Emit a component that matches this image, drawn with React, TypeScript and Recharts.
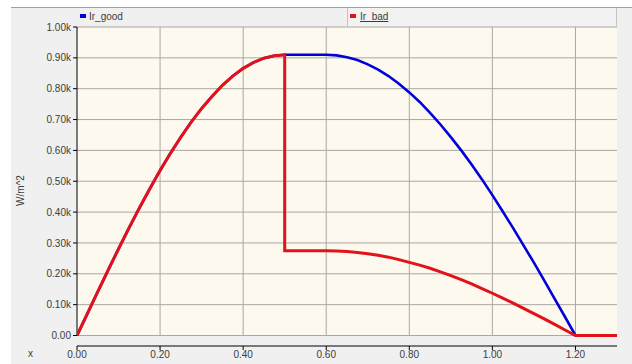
import React from "react";
import {
  LineChart,
  Line,
  XAxis,
  YAxis,
  ReferenceLine,
  ReferenceArea,
  Legend,
} from "recharts";

// x positions (0.5 appears twice: the step of Ir_bad)
const xValues = [
  0, 0.025, 0.05, 0.075, 0.1, 0.125, 0.15, 0.175, 0.2, 0.225, 0.25, 0.275, 0.3,
  0.325, 0.35, 0.375, 0.4, 0.425, 0.45, 0.475, 0.5, 0.5, 0.525, 0.55, 0.575,
  0.6, 0.625, 0.65, 0.675, 0.7, 0.725, 0.75, 0.775, 0.8, 0.825, 0.85, 0.875,
  0.9, 0.925, 0.95, 0.975, 1.0, 1.025, 1.05, 1.075, 1.1, 1.125, 1.15, 1.175,
  1.2, 1.25, 1.3,
];

// Ir_good, W/m^2
const goodValues = [
  0, 71, 142, 212, 281, 348, 413, 475, 535, 591, 643, 692, 736, 775, 811, 841,
  866, 885, 899, 907, 910, 910, 910, 910, 910, 910, 908, 902, 893, 879, 862,
  841, 816, 788, 757, 722, 684, 643, 600, 554, 506, 455, 402, 348, 292, 236,
  178, 119, 60, 0, 0, 0,
];

// Ir_bad, W/m^2
const badValues = [
  0, 71, 142, 212, 281, 348, 413, 475, 535, 591, 643, 692, 736, 775, 811, 841,
  866, 885, 899, 907, 910, 275, 275, 275, 275, 275, 274, 272, 269, 265, 260,
  254, 246, 237, 228, 218, 206, 194, 181, 167, 152, 137, 121, 105, 88, 71, 54,
  36, 18, 0, 0, 0,
];

const xTicks = [0, 0.2, 0.4, 0.6, 0.8, 1.0, 1.2];
const yTicks = [0, 100, 200, 300, 400, 500, 600, 700, 800, 900, 1000];

const seriesNames = ["Ir_good", "Ir_bad"];
const seriesColors = ["#0000dc", "#e3121a"];

const data = xValues.map((x, i) => ({
  x,
  good: goodValues[i],
  bad: badValues[i],
}));

const CREAM = "#fdf9ee";
const GRID = "#a8a8a2";
const TEXT = "#3c3c3c";
const FONT = "'Liberation Sans', Arial, sans-serif";

const fmtY = (v: number) => (v === 0 ? "0.00" : (v / 1000).toFixed(2) + "k");
const fmtX = (v: number) => v.toFixed(2);

const renderLegend = () => (
  <div
    style={{
      position: "relative",
      width: 540,
      height: 18,
      fontFamily: FONT,
      fontSize: 10,
      color: TEXT,
    }}
  >
    <div
      style={{
        position: "absolute",
        left: 0,
        top: 0,
        width: 270,
        height: 18,
        boxSizing: "border-box",
      }}
    >
      <span
        style={{
          position: "absolute",
          left: 3,
          top: 6,
          width: 6,
          height: 4,
          background: seriesColors[0],
        }}
      />
      <span style={{ position: "absolute", left: 12, top: 3, lineHeight: "11px" }}>
        {seriesNames[0]}
      </span>
    </div>
    <div
      style={{
        position: "absolute",
        left: 270,
        top: 0,
        width: 270,
        height: 18,
        boxSizing: "border-box",
        borderLeft: "1px solid #c4c4c4",
        borderRight: "1px solid #c4c4c4",
        background: "#f2f2f2",
      }}
    >
      <span
        style={{
          position: "absolute",
          left: 2,
          top: 6,
          width: 6,
          height: 4,
          background: seriesColors[1],
        }}
      />
      <span
        style={{
          position: "absolute",
          left: 12,
          top: 3,
          lineHeight: "11px",
          textDecoration: "underline",
        }}
      >
        {seriesNames[1]}
      </span>
    </div>
  </div>
);

export default function App() {
  return (
    <div
      style={{
        position: "absolute",
        left: 0,
        top: 0,
        width: 632,
        height: 364,
        background: "#ffffff",
        overflow: "hidden",
      }}
    >
      <div
        style={{
          position: "absolute",
          left: 11,
          top: 7,
          width: 621,
          height: 357,
          background: "#f0f0f0",
          borderTop: "1px solid #a0a0a0",
          boxSizing: "border-box",
        }}
      />
      <div style={{ position: "absolute", left: 0, top: 0 }}>
        <LineChart
          width={632}
          height={364}
          data={data}
          margin={{ top: 27, right: 15, left: 17, bottom: 0 }}
        >
          <XAxis
            dataKey="x"
            type="number"
            domain={[0, 1.3]}
            ticks={xTicks}
            tickFormatter={fmtX}
            allowDataOverflow
            height={18}
            tickSize={4}
            tickMargin={1}
            axisLine={{ stroke: "#000" }}
            tickLine={{ stroke: "#000" }}
            tick={{ fill: TEXT, fontSize: 10, fontFamily: FONT }}
            label={{
              value: "x",
              position: "left",
              offset: 44,
              dy: -2,
              fill: TEXT,
              fontSize: 10,
              fontFamily: FONT,
            }}
          />
          <YAxis
            type="number"
            domain={[-34, 1000]}
            ticks={yTicks}
            tickFormatter={fmtY}
            allowDataOverflow
            width={60}
            tickSize={4}
            tickMargin={2}
            axisLine={false}
            tickLine={{ stroke: "#000" }}
            tick={{ fill: TEXT, fontSize: 10, fontFamily: FONT }}
            label={{
              value: "W/m^2",
              angle: -90,
              position: "insideLeft",
              offset: 3,
              dy: 4,
              fill: TEXT,
              fontSize: 10,
              fontFamily: FONT,
              style: { textAnchor: "middle" },
            }}
          />
          <ReferenceArea
            x1={0}
            x2={1.3}
            y1={0}
            y2={1000}
            fill={CREAM}
            fillOpacity={1}
            stroke="none"
            ifOverflow="visible"
          />
          {yTicks.map((t) => (
            <ReferenceLine
              key={"h" + t}
              segment={[
                { x: 0, y: t },
                { x: 1.3, y: t },
              ]}
              stroke={GRID}
              strokeWidth={1}
              ifOverflow="visible"
            />
          ))}
          {xTicks.slice(1).map((t) => (
            <ReferenceLine
              key={"v" + t}
              segment={[
                { x: t, y: 0 },
                { x: t, y: 1000 },
              ]}
              stroke={GRID}
              strokeWidth={1}
              ifOverflow="visible"
            />
          ))}
          <ReferenceLine
            segment={[
              { x: 0, y: 0 },
              { x: 0, y: 1000 },
            ]}
            stroke="#000"
            strokeWidth={1}
            ifOverflow="visible"
          />
          <Legend
            layout="horizontal"
            verticalAlign="middle"
            align="center"
            content={renderLegend}
            wrapperStyle={{ top: 8, left: 77, width: 540, height: 18 }}
          />
          <Line
            type="linear"
            dataKey="good"
            name={seriesNames[0]}
            stroke={seriesColors[0]}
            strokeWidth={2.6}
            dot={false}
            isAnimationActive={false}
          />
          <Line
            type="linear"
            dataKey="bad"
            name={seriesNames[1]}
            stroke={seriesColors[1]}
            strokeWidth={3}
            dot={false}
            isAnimationActive={false}
          />
        </LineChart>
      </div>
    </div>
  );
}
